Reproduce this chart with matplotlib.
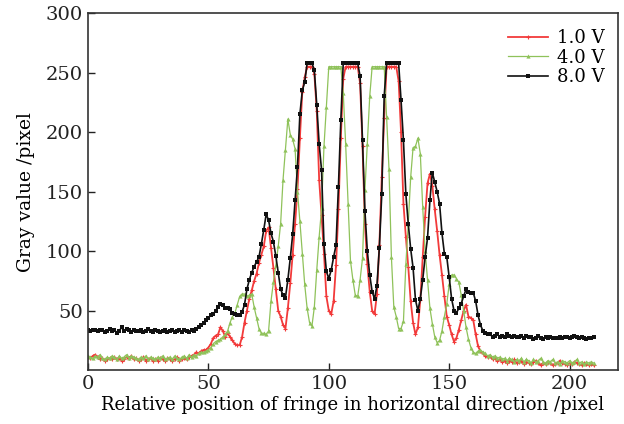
import numpy as np
import matplotlib
matplotlib.use("Agg")
import matplotlib.pyplot as plt

plt.rcParams["font.family"] = ["DejaVu Serif"]

# pixel index along the fringe profile
position = np.arange(0, 211)

gray_1v = [
    11, 10, 12, 13, 11, 9, 10, 8, 9, 10,
    9, 11, 9, 10, 8, 9, 11, 10, 12, 9,
    10, 8, 9, 11, 8, 9, 10, 8, 9, 8,
    10, 9, 8, 10, 9, 8, 9, 11, 8, 9,
    10, 9, 11, 12, 13, 15, 14, 16, 17, 17,
    19, 22, 27, 29, 30, 36, 33, 28, 31, 28,
    25, 22, 21, 21, 28, 40, 50, 60, 67, 75,
    81, 90, 97, 104, 117, 120, 103, 86, 68, 50,
    45, 38, 35, 52, 73, 97, 123, 152, 195, 234,
    246, 255, 255, 255, 249, 218, 160, 130, 98, 62,
    50, 47, 58, 88, 135, 195, 245, 255, 255, 255,
    255, 255, 255, 241, 188, 123, 89, 66, 50, 47,
    64, 105, 162, 212, 255, 255, 255, 255, 255, 243,
    200, 140, 112, 87, 58, 40, 30, 36, 59, 95,
    129, 157, 165, 155, 135, 117, 97, 80, 62, 45,
    38, 30, 24, 27, 34, 42, 50, 55, 45, 44,
    42, 30, 20, 16, 14, 12, 11, 12, 9, 10,
    8, 9, 7, 8, 6, 8, 7, 9, 6, 7,
    8, 5, 7, 6, 5, 7, 8, 6, 4, 6,
    5, 7, 6, 4, 5, 6, 8, 6, 5, 4,
    6, 5, 7, 6, 5, 4, 6, 5, 4, 5,
    4,
]

gray_4v = [
    12, 11, 10, 12, 11, 13, 10, 9, 11, 10,
    12, 11, 9, 12, 10, 11, 13, 10, 12, 11,
    10, 9, 11, 10, 12, 9, 11, 10, 9, 11,
    10, 12, 9, 10, 11, 9, 12, 10, 9, 11,
    12, 10, 13, 11, 13, 12, 14, 15, 15, 16,
    17, 19, 22, 24, 25, 26, 28, 30, 33, 40,
    45, 48, 55, 62, 64, 64, 62, 63, 64, 53,
    44, 35, 31, 31, 30, 33, 58, 74, 88, 104,
    123, 160, 185, 211, 198, 194, 186, 150, 125, 98,
    72, 52, 40, 37, 53, 84, 112, 136, 188, 221,
    255, 255, 255, 255, 255, 255, 233, 190, 140, 92,
    76, 63, 62, 76, 94, 151, 190, 230, 255, 255,
    255, 255, 255, 255, 213, 169, 95, 53, 45, 35,
    35, 41, 89, 123, 162, 187, 188, 195, 182, 137,
    100, 76, 52, 39, 28, 23, 25, 33, 45, 56,
    72, 80, 80, 77, 74, 63, 50, 36, 26, 19,
    15, 14, 16, 17, 15, 14, 12, 13, 11, 12,
    10, 11, 9, 10, 8, 10, 9, 7, 9, 8,
    10, 7, 9, 8, 6, 9, 7, 8, 10, 7,
    6, 8, 7, 9, 6, 7, 5, 8, 7, 6,
    8, 6, 7, 9, 6, 7, 5, 7, 6, 7,
    6,
]

gray_8v = [
    34, 33, 34, 34, 33, 34, 34, 32, 33, 35,
    33, 34, 31, 33, 36, 33, 35, 34, 32, 34,
    33, 33, 34, 32, 33, 35, 33, 32, 34, 33,
    32, 33, 34, 32, 33, 34, 32, 33, 34, 32,
    34, 33, 32, 34, 33, 35, 36, 38, 40, 42,
    44, 46, 47, 50, 53, 56, 55, 52, 52, 51,
    48, 47, 46, 46, 49, 55, 68, 76, 82, 87,
    91, 95, 106, 118, 131, 126, 115, 108, 96, 82,
    68, 63, 61, 76, 94, 114, 143, 171, 215, 235,
    242, 258, 258, 258, 252, 223, 190, 168, 106, 83,
    77, 84, 95, 105, 154, 210, 258, 258, 258, 258,
    258, 258, 258, 247, 193, 134, 100, 80, 66, 60,
    71, 103, 148, 230, 258, 258, 258, 258, 258, 258,
    227, 193, 148, 123, 102, 86, 59, 50, 60, 76,
    95, 111, 143, 166, 158, 150, 140, 115, 98, 95,
    78, 60, 50, 48, 52, 56, 62, 68, 66, 65,
    65, 58, 46, 38, 33, 31, 30, 30, 28, 29,
    30, 28, 29, 28, 30, 29, 28, 29, 28, 28,
    29, 27, 29, 28, 28, 26, 27, 29, 27, 26,
    28, 27, 28, 27, 27, 27, 28, 27, 28, 28,
    27, 28, 29, 28, 27, 28, 27, 26, 27, 27,
    28,
]

labels = ["1.0 V", "4.0 V", "8.0 V"]
colors = ["#f23a3a", "#8fc25a", "#111111"]

fig = plt.figure(figsize=(6.24, 4.24), dpi=100)
ax = fig.add_axes([0.141, 0.127, 0.849, 0.842])

ax.plot(position, gray_1v, color=colors[0], lw=1.3, marker="+", ms=3, mew=0.8, label=labels[0])
ax.plot(position, gray_4v, color=colors[1], lw=0.9, marker="^", ms=3, mew=0, label=labels[1])
ax.plot(position, gray_8v, color=colors[2], lw=1.2, marker="s", ms=2.2, mew=0, label=labels[2])

ax.set_xlim(0, 220)
ax.set_ylim(0, 300)
ax.set_xticks([0, 50, 100, 150, 200])
ax.set_yticks([50, 100, 150, 200, 250, 300])
ax.tick_params(direction="in", length=5, width=1, labelsize=14, colors="#222222")
for s in ax.spines.values():
    s.set_linewidth(1.2)
    s.set_color("#333333")

ax.set_xlabel("Relative position of fringe in horizontal direction /pixel", fontsize=13, labelpad=2)
ax.set_ylabel("Gray value /pixel", fontsize=13.5, labelpad=8)

ax.legend(loc="upper right", frameon=False, fontsize=13, handlelength=2.2,
          handletextpad=0.5, labelspacing=0.08, borderaxespad=0,
          bbox_to_anchor=(0.989, 0.975))

fig.savefig("out.png", dpi=100)
